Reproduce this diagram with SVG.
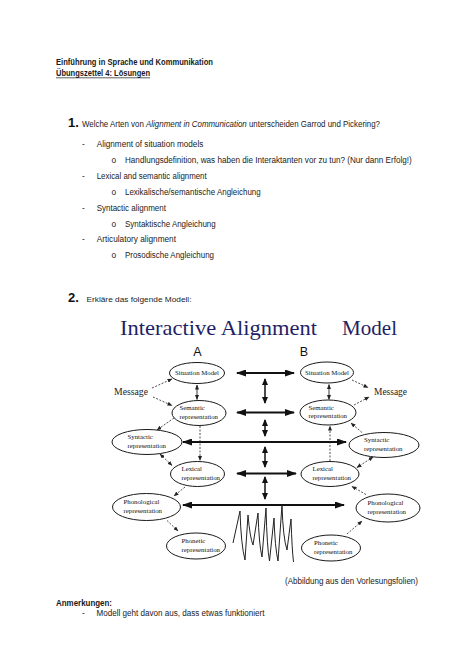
<svg xmlns="http://www.w3.org/2000/svg" width="474" height="670" viewBox="0 0 474 670">
<defs>
<style>
.doc{font-family:"Liberation Sans",Arial,sans-serif;font-size:8.3px;fill:#1a1a1a}
.b{font-weight:bold}
.num{font-family:"Liberation Sans",Arial,sans-serif;font-weight:bold;font-size:13px;fill:#111}
.title{font-family:"Liberation Serif","Times New Roman",serif;font-size:22px;fill:#1f1f66}
.ab{font-family:"Liberation Sans",Arial,sans-serif;font-size:12.5px;fill:#111}
.msg{font-family:"Liberation Serif","Times New Roman",serif;font-size:9.5px;fill:#222}
.node ellipse{fill:#fff;stroke:#1a1a1a;stroke-width:1}
.lbl{font-family:"Liberation Serif","Times New Roman",serif;font-size:6.8px;fill:#111}
.thick{stroke:#111;stroke-width:2.2;fill:none;marker-start:url(#big);marker-end:url(#big)}
.vert{stroke:#111;stroke-width:1.5;fill:none;marker-start:url(#mid);marker-end:url(#mid)}
.dash{stroke:#222;stroke-width:0.8;fill:none;stroke-dasharray:2 1.5;marker-end:url(#sm)}
.both{marker-start:url(#sm)}
.small{stroke:#222;stroke-width:0.9;fill:none;marker-start:url(#sm);marker-end:url(#sm)}
</style>
<marker id="big" markerUnits="userSpaceOnUse" markerWidth="10" markerHeight="7" refX="9" refY="3.5" orient="auto-start-reverse"><path d="M0,0 L10,3.5 L0,7 z" fill="#111"/></marker>
<marker id="mid" markerUnits="userSpaceOnUse" markerWidth="7" markerHeight="6" refX="6" refY="3" orient="auto-start-reverse"><path d="M0,0 L7,3 L0,6 z" fill="#111"/></marker>
<marker id="sm" markerUnits="userSpaceOnUse" markerWidth="5" markerHeight="4" refX="4.5" refY="2" orient="auto-start-reverse"><path d="M0,0 L5,2 L0,4 z" fill="#222"/></marker>
</defs>
<rect width="474" height="670" fill="#fff"/>

<g id="document-text">
<text class="doc b" x="56" y="65" textLength="157" lengthAdjust="spacingAndGlyphs" style="font-size:8.5px">Einführung in Sprache und Kommunikation</text>
<text class="doc b" x="56" y="76" textLength="94" lengthAdjust="spacingAndGlyphs" style="font-size:8.5px">Übungszettel 4: Lösungen</text>
<line x1="56" y1="77.8" x2="150" y2="77.8" stroke="#1a1a1a" stroke-width="0.7"/>
<text class="num" x="68" y="126.5">1.</text>
<text class="doc" x="82" y="126.5" textLength="298" lengthAdjust="spacingAndGlyphs">Welche Arten von <tspan font-style="italic">Alignment in Communication</tspan> unterscheiden Garrod und Pickering?</text>
<text class="doc" x="82" y="147">-</text>
<text class="doc" x="96.7" y="147" textLength="106.6" lengthAdjust="spacingAndGlyphs">Alignment of situation models</text>
<text class="doc" x="111.5" y="163">o</text>
<text class="doc" x="125" y="163" textLength="286.7" lengthAdjust="spacingAndGlyphs">Handlungsdefinition, was haben die Interaktanten vor zu tun? (Nur dann Erfolg!)</text>
<text class="doc" x="82" y="178.5">-</text>
<text class="doc" x="96.7" y="178.5" textLength="110" lengthAdjust="spacingAndGlyphs">Lexical and semantic alignment</text>
<text class="doc" x="111.5" y="194.5">o</text>
<text class="doc" x="125" y="194.5" textLength="135.7" lengthAdjust="spacingAndGlyphs">Lexikalische/semantische Angleichung</text>
<text class="doc" x="82" y="210.5">-</text>
<text class="doc" x="96.7" y="210.5" textLength="69.3" lengthAdjust="spacingAndGlyphs">Syntactic alignment</text>
<text class="doc" x="111.5" y="226.5">o</text>
<text class="doc" x="125" y="226.5" textLength="90.7" lengthAdjust="spacingAndGlyphs">Syntaktische Angleichung</text>
<text class="doc" x="82" y="242">-</text>
<text class="doc" x="96.7" y="242" textLength="79.3" lengthAdjust="spacingAndGlyphs">Articulatory alignment</text>
<text class="doc" x="111.5" y="258">o</text>
<text class="doc" x="125" y="258" textLength="89" lengthAdjust="spacingAndGlyphs">Prosodische Angleichung</text>
<text class="num" x="68" y="302">2.</text>
<text class="doc" x="86.5" y="302" textLength="105" lengthAdjust="spacingAndGlyphs" style="font-size:7.6px">Erkläre das folgende Modell:</text>
<text class="doc" x="285" y="583.5" textLength="133" lengthAdjust="spacingAndGlyphs">(Abbildung aus den Vorlesungsfolien)</text>
<text class="doc b" x="56" y="605.5" textLength="56" lengthAdjust="spacingAndGlyphs">Anmerkungen:</text>
<text class="doc" x="82" y="615.5">-</text>
<text class="doc" x="96.5" y="615.5" textLength="168" lengthAdjust="spacingAndGlyphs">Modell geht davon aus, dass etwas funktioniert</text>
</g>

<g id="diagram-title">
<text class="title" x="120" y="335" textLength="197" lengthAdjust="spacingAndGlyphs">Interactive Alignment</text>
<text class="title" x="342" y="335" textLength="55" lengthAdjust="spacingAndGlyphs">Model</text>
<text class="ab" x="197.5" y="355.5" text-anchor="middle">A</text>
<text class="ab" x="303.8" y="355.5" text-anchor="middle">B</text>
<text class="msg" x="114" y="394.5" textLength="34" lengthAdjust="spacingAndGlyphs">Message</text>
<text class="msg" x="374" y="394.5" textLength="33" lengthAdjust="spacingAndGlyphs">Message</text>
</g>

<g id="connectors">
<line class="thick" x1="237" y1="373" x2="294" y2="373"/>
<line class="thick" x1="237" y1="412.5" x2="294" y2="412.5"/>
<line class="thick" x1="183" y1="442" x2="346" y2="442"/>
<line class="thick" x1="237" y1="473.5" x2="296" y2="473.5"/>
<line class="thick" x1="183" y1="505" x2="344" y2="505"/>
<line class="vert" x1="265" y1="379" x2="265" y2="403"/>
<line class="vert" x1="265" y1="420" x2="265" y2="436"/>
<line class="vert" x1="265" y1="447" x2="265" y2="467"/>
<line class="vert" x1="265" y1="477" x2="265" y2="499"/>
<line class="small" x1="197" y1="385" x2="197" y2="399.5"/>
<line class="small" x1="329" y1="384.5" x2="329" y2="399.5"/>
<line class="dash" x1="152" y1="388" x2="172" y2="379"/>
<line class="dash" x1="153" y1="397" x2="172" y2="405.5"/>
<line class="dash" x1="174" y1="418" x2="157" y2="430"/>
<line class="dash both" x1="160" y1="454" x2="172" y2="465.5"/>
<line class="dash" x1="185" y1="487" x2="174" y2="496"/>
<line class="dash" x1="167" y1="520.5" x2="178" y2="531"/>
<line class="dash" x1="200" y1="426" x2="200" y2="460.5" stroke-dasharray="1.2 1.2"/>
<line class="dash" x1="352" y1="380" x2="368" y2="387.5"/>
<line class="dash" x1="354" y1="405" x2="369" y2="397"/>
<line class="dash" x1="362" y1="432.5" x2="351" y2="423"/>
<line class="dash both" x1="373" y1="457" x2="357" y2="467.5"/>
<line class="dash" x1="366" y1="494.5" x2="352" y2="486.5"/>
<line class="dash" x1="347" y1="534" x2="362" y2="521"/>
<line class="dash" x1="330" y1="461" x2="330" y2="426" stroke-dasharray="1.2 1.2"/>
<path d="M233,543 L240,511 Q241,545 245,560 L248,515 Q250,538 253,545 L258,513 Q259,545 262,557 L266,508 Q267,548 269.5,561 L274,518 Q275,548 278,561 L282,505 Q283,538 287,550 L291,519 Q292,550 293.5,562" fill="none" stroke="#222" stroke-width="1"/>
</g>

<g id="situation-a" class="node"><ellipse cx="197" cy="373" rx="27.5" ry="10.5"/><text class="lbl" x="197" y="375.3" text-anchor="middle">Situation Model</text></g>
<g id="semantic-a" class="node"><ellipse cx="199" cy="413" rx="27" ry="12.5"/><text class="lbl" x="179.5" y="410">Semantic</text><text class="lbl" x="179.5" y="418.5">representation</text></g>
<g id="syntactic-a" class="node"><ellipse cx="147" cy="442" rx="35" ry="12.5"/><text class="lbl" x="127.5" y="439">Syntactic</text><text class="lbl" x="127.5" y="447.5">representation</text></g>
<g id="lexical-a" class="node"><ellipse cx="197.5" cy="474" rx="27" ry="12.5"/><text class="lbl" x="181.5" y="471">Lexical</text><text class="lbl" x="181.5" y="479.5">representation</text></g>
<g id="phonological-a" class="node"><ellipse cx="146.5" cy="507" rx="34" ry="13.5"/><text class="lbl" x="123.5" y="504">Phonological</text><text class="lbl" x="123.5" y="512.5">representation</text></g>
<g id="phonetic-a" class="node"><ellipse cx="196" cy="546" rx="29.5" ry="13"/><text class="lbl" x="181.5" y="543">Phonetic</text><text class="lbl" x="181.5" y="551.5">representation</text></g>

<g id="situation-b" class="node"><ellipse cx="327" cy="372.5" rx="26.5" ry="10.5"/><text class="lbl" x="327" y="374.8" text-anchor="middle">Situation Model</text></g>
<g id="semantic-b" class="node"><ellipse cx="328" cy="412.5" rx="28" ry="12.5"/><text class="lbl" x="308.5" y="409.5">Semantic</text><text class="lbl" x="308.5" y="418">representation</text></g>
<g id="syntactic-b" class="node"><ellipse cx="384" cy="445" rx="35" ry="12.5"/><text class="lbl" x="364" y="442">Syntactic</text><text class="lbl" x="364" y="450.5">representation</text></g>
<g id="lexical-b" class="node"><ellipse cx="330" cy="474" rx="29" ry="12.5"/><text class="lbl" x="312.5" y="471">Lexical</text><text class="lbl" x="312.5" y="479.5">representation</text></g>
<g id="phonological-b" class="node"><ellipse cx="388" cy="508" rx="32" ry="14"/><text class="lbl" x="367.5" y="505">Phonological</text><text class="lbl" x="367.5" y="513.5">representation</text></g>
<g id="phonetic-b" class="node"><ellipse cx="331" cy="548" rx="29.5" ry="13"/><text class="lbl" x="314" y="545">Phonetic</text><text class="lbl" x="314" y="553.5">representation</text></g>
</svg>
